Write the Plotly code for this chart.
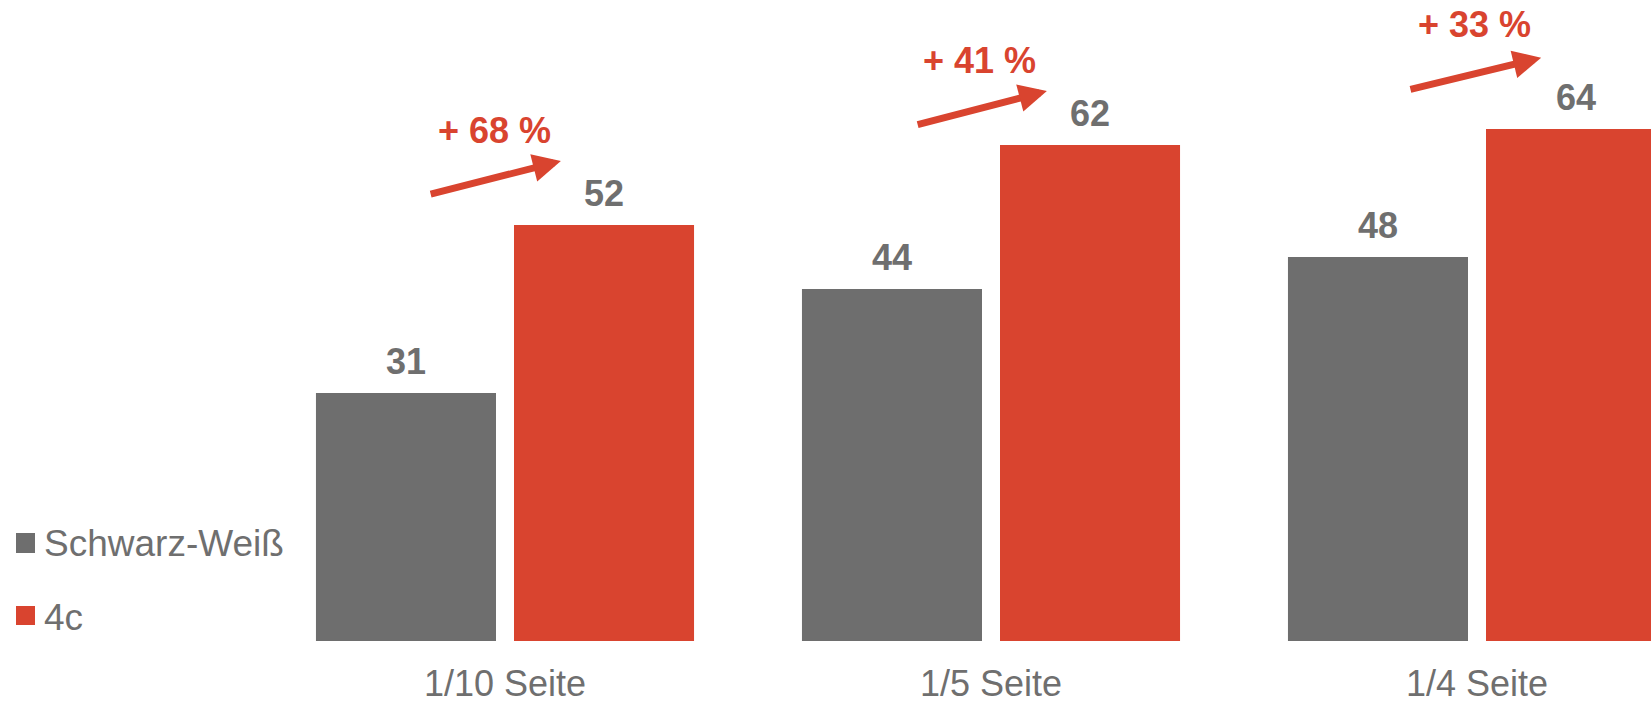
import plotly.graph_objects as go

# Data
categories = ["1/10 Seite", "1/5 Seite", "1/4 Seite"]
series_names = ["Schwarz-Weiß", "4c"]
values_sw = [31, 44, 48]
values_4c = [52, 62, 64]

# Styling
GRAY = "#6e6e6e"
RED = "#d9442f"
TEXT = "#6f6f6f"
FONT = "Liberation Sans, Arial, Helvetica, sans-serif"
W, H = 1651, 703
M_T, M_B = 1, 62
PLOT_H = H - M_T - M_B

x_pos = list(range(len(categories)))

fig = go.Figure()
fig.add_trace(go.Bar(x=x_pos, y=values_sw, name=series_names[0],
                     marker=dict(color=GRAY, line=dict(width=0)), showlegend=False))
fig.add_trace(go.Bar(x=x_pos, y=values_4c, name=series_names[1],
                     marker=dict(color=RED, line=dict(width=0)), showlegend=False))

annotations = []
shapes = []

# value labels above the bars
bar_half_offset = 0.2037
for i, (g, r) in enumerate(zip(values_sw, values_4c)):
    for xv, v in ((i - bar_half_offset, g), (i + bar_half_offset, r)):
        annotations.append(dict(x=xv, y=v, xref="x", yref="y", text=str(v),
                                showarrow=False, yanchor="bottom", yshift=9,
                                font=dict(family=FONT, size=36, color=TEXT, weight="bold")))

# growth arrows and percentage labels (placement in axis units)
arrow_tail = [(-0.156, 55.8), (-0.154, 64.5), (-0.140, 68.9)]
arrow_tip = [(0.115, 60.0), (0.115, 68.75), (0.132, 72.9)]
pct_pos = [(-0.022, 62.25), (-0.023, 71.0), (-0.005, 75.5)]
for i, (g, r) in enumerate(zip(values_sw, values_4c)):
    pct = round((r / g - 1) * 100)
    tx, ty = arrow_tail[i]
    hx, hy = arrow_tip[i]
    annotations.append(dict(x=i + hx, y=hy, ax=i + tx, ay=ty, xref="x", yref="y",
                            axref="x", ayref="y", text="", showarrow=True,
                            arrowhead=2, arrowsize=0.8, arrowwidth=7, arrowcolor=RED,
                            standoff=0, startstandoff=0))
    px, py = pct_pos[i]
    annotations.append(dict(x=i + px, y=py, xref="x", yref="y", text=f"+ {pct} %",
                            showarrow=False, yanchor="bottom", yshift=-10,
                            font=dict(family=FONT, size=36, color=RED, weight="bold")))

# legend drawn at the lower left
legend_rows = [(533, 553, 543), (606, 625, 617)]
for name, color, (top, bot, mid) in zip(series_names, [GRAY, RED], legend_rows):
    shapes.append(dict(type="rect", xref="paper", yref="paper",
                       x0=16 / W, x1=35 / W,
                       y0=(H - M_B - bot) / PLOT_H, y1=(H - M_B - top) / PLOT_H,
                       fillcolor=color, line=dict(width=0)))
    annotations.append(dict(x=42 / W, y=(H - M_B - mid) / PLOT_H, xref="paper", yref="paper",
                            text=name, showarrow=False, xanchor="left", yanchor="middle",
                            font=dict(family=FONT, size=37, color=TEXT)))

group_px = 486.0
center0_px = 505.0
fig.update_layout(
    width=W, height=H,
    margin=dict(l=0, r=0, t=M_T, b=M_B, pad=0, autoexpand=False),
    paper_bgcolor="white", plot_bgcolor="white",
    barmode="group", bargap=0.185, bargroupgap=0.0909,
    xaxis=dict(range=[-center0_px / group_px, (W - center0_px) / group_px],
               tickmode="array", tickvals=x_pos, ticktext=categories,
               showgrid=False, zeroline=False, showline=False, ticks="",
               ticklabelstandoff=18, automargin=False,
               tickfont=dict(family=FONT, size=36, color=TEXT)),
    yaxis=dict(range=[0, 80], visible=False, showgrid=False, zeroline=False,
               automargin=False),
    annotations=annotations,
    shapes=shapes,
    showlegend=False,
)

fig.write_html("out.html")
